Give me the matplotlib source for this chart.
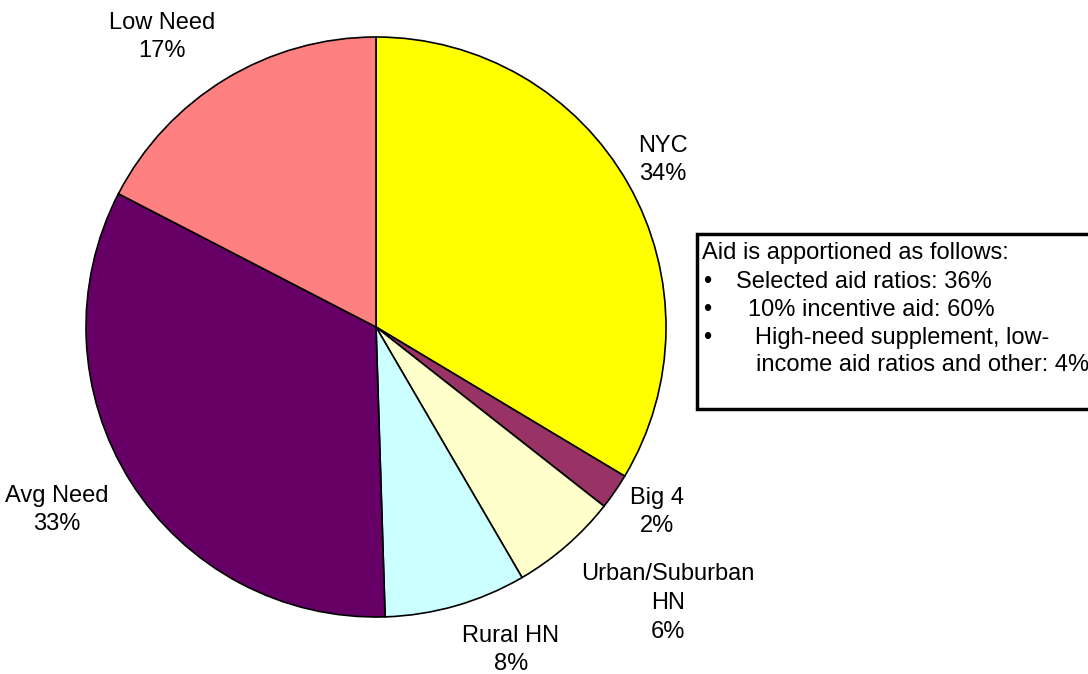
import matplotlib
matplotlib.use("Agg")
import matplotlib.pyplot as plt
from matplotlib.patches import Rectangle

plt.rcParams['font.family'] = ['Liberation Sans', 'DejaVu Sans']

categories = ["NYC", "Big 4", "Urban/Suburban\nHN", "Rural HN", "Avg Need", "Low Need"]
shares = [33.6, 2.0, 6.0, 7.9, 33.1, 17.4]
colors = ["#FFFF00", "#993366", "#FFFFCC", "#CCFFFF", "#660066", "#FF8080"]
label_pos = [(663, 160), (657, 512), (668, 603), (511, 650), (57, 510), (162, 37)]

box_lines = [
    ("Aid is apportioned as follows:", None),
    ("Selected aid ratios: 36%", "\u2022"),
    ("10% incentive aid: 60%", "\u2022"),
    ("High-need supplement, low-", "\u2022"),
    ("income aid ratios and other: 4%", None),
]

W, H = 1088, 674
fig = plt.figure(figsize=(W / 100, H / 100), dpi=100)
ax = fig.add_axes([0, 0, 1, 1])
ax.set_xlim(0, W)
ax.set_ylim(0, H)
ax.set_aspect('equal')
ax.axis('off')

def Y(y):
    return H - y

ax.pie(shares, colors=colors, startangle=90, counterclock=False,
       center=(376, Y(327)), radius=290,
       wedgeprops=dict(edgecolor='black', linewidth=1.2))
ax.set_xlim(0, W)
ax.set_ylim(0, H)

for cat, val, (x, y) in zip(categories, shares, label_pos):
    ax.text(x, Y(y), f"{cat}\n{round(val):d}%", ha='center', va='center',
            fontsize=17, linespacing=1.4)

# text box
ax.add_patch(Rectangle((697, Y(409)), 430, 175, facecolor='white',
                       edgecolor='black', linewidth=2.5, clip_on=False))
line_y = [253, 282, 310, 338, 365]
text_x = [702, 736, 748, 755, 756]
for (txt, bullet), y, x in zip(box_lines, line_y, text_x):
    ax.text(x, Y(y), txt, ha='left', va='center', fontsize=17)
    if bullet:
        ax.text(703, Y(y), bullet, ha='left', va='center', fontsize=17)

fig.savefig("out.png", dpi=100)
